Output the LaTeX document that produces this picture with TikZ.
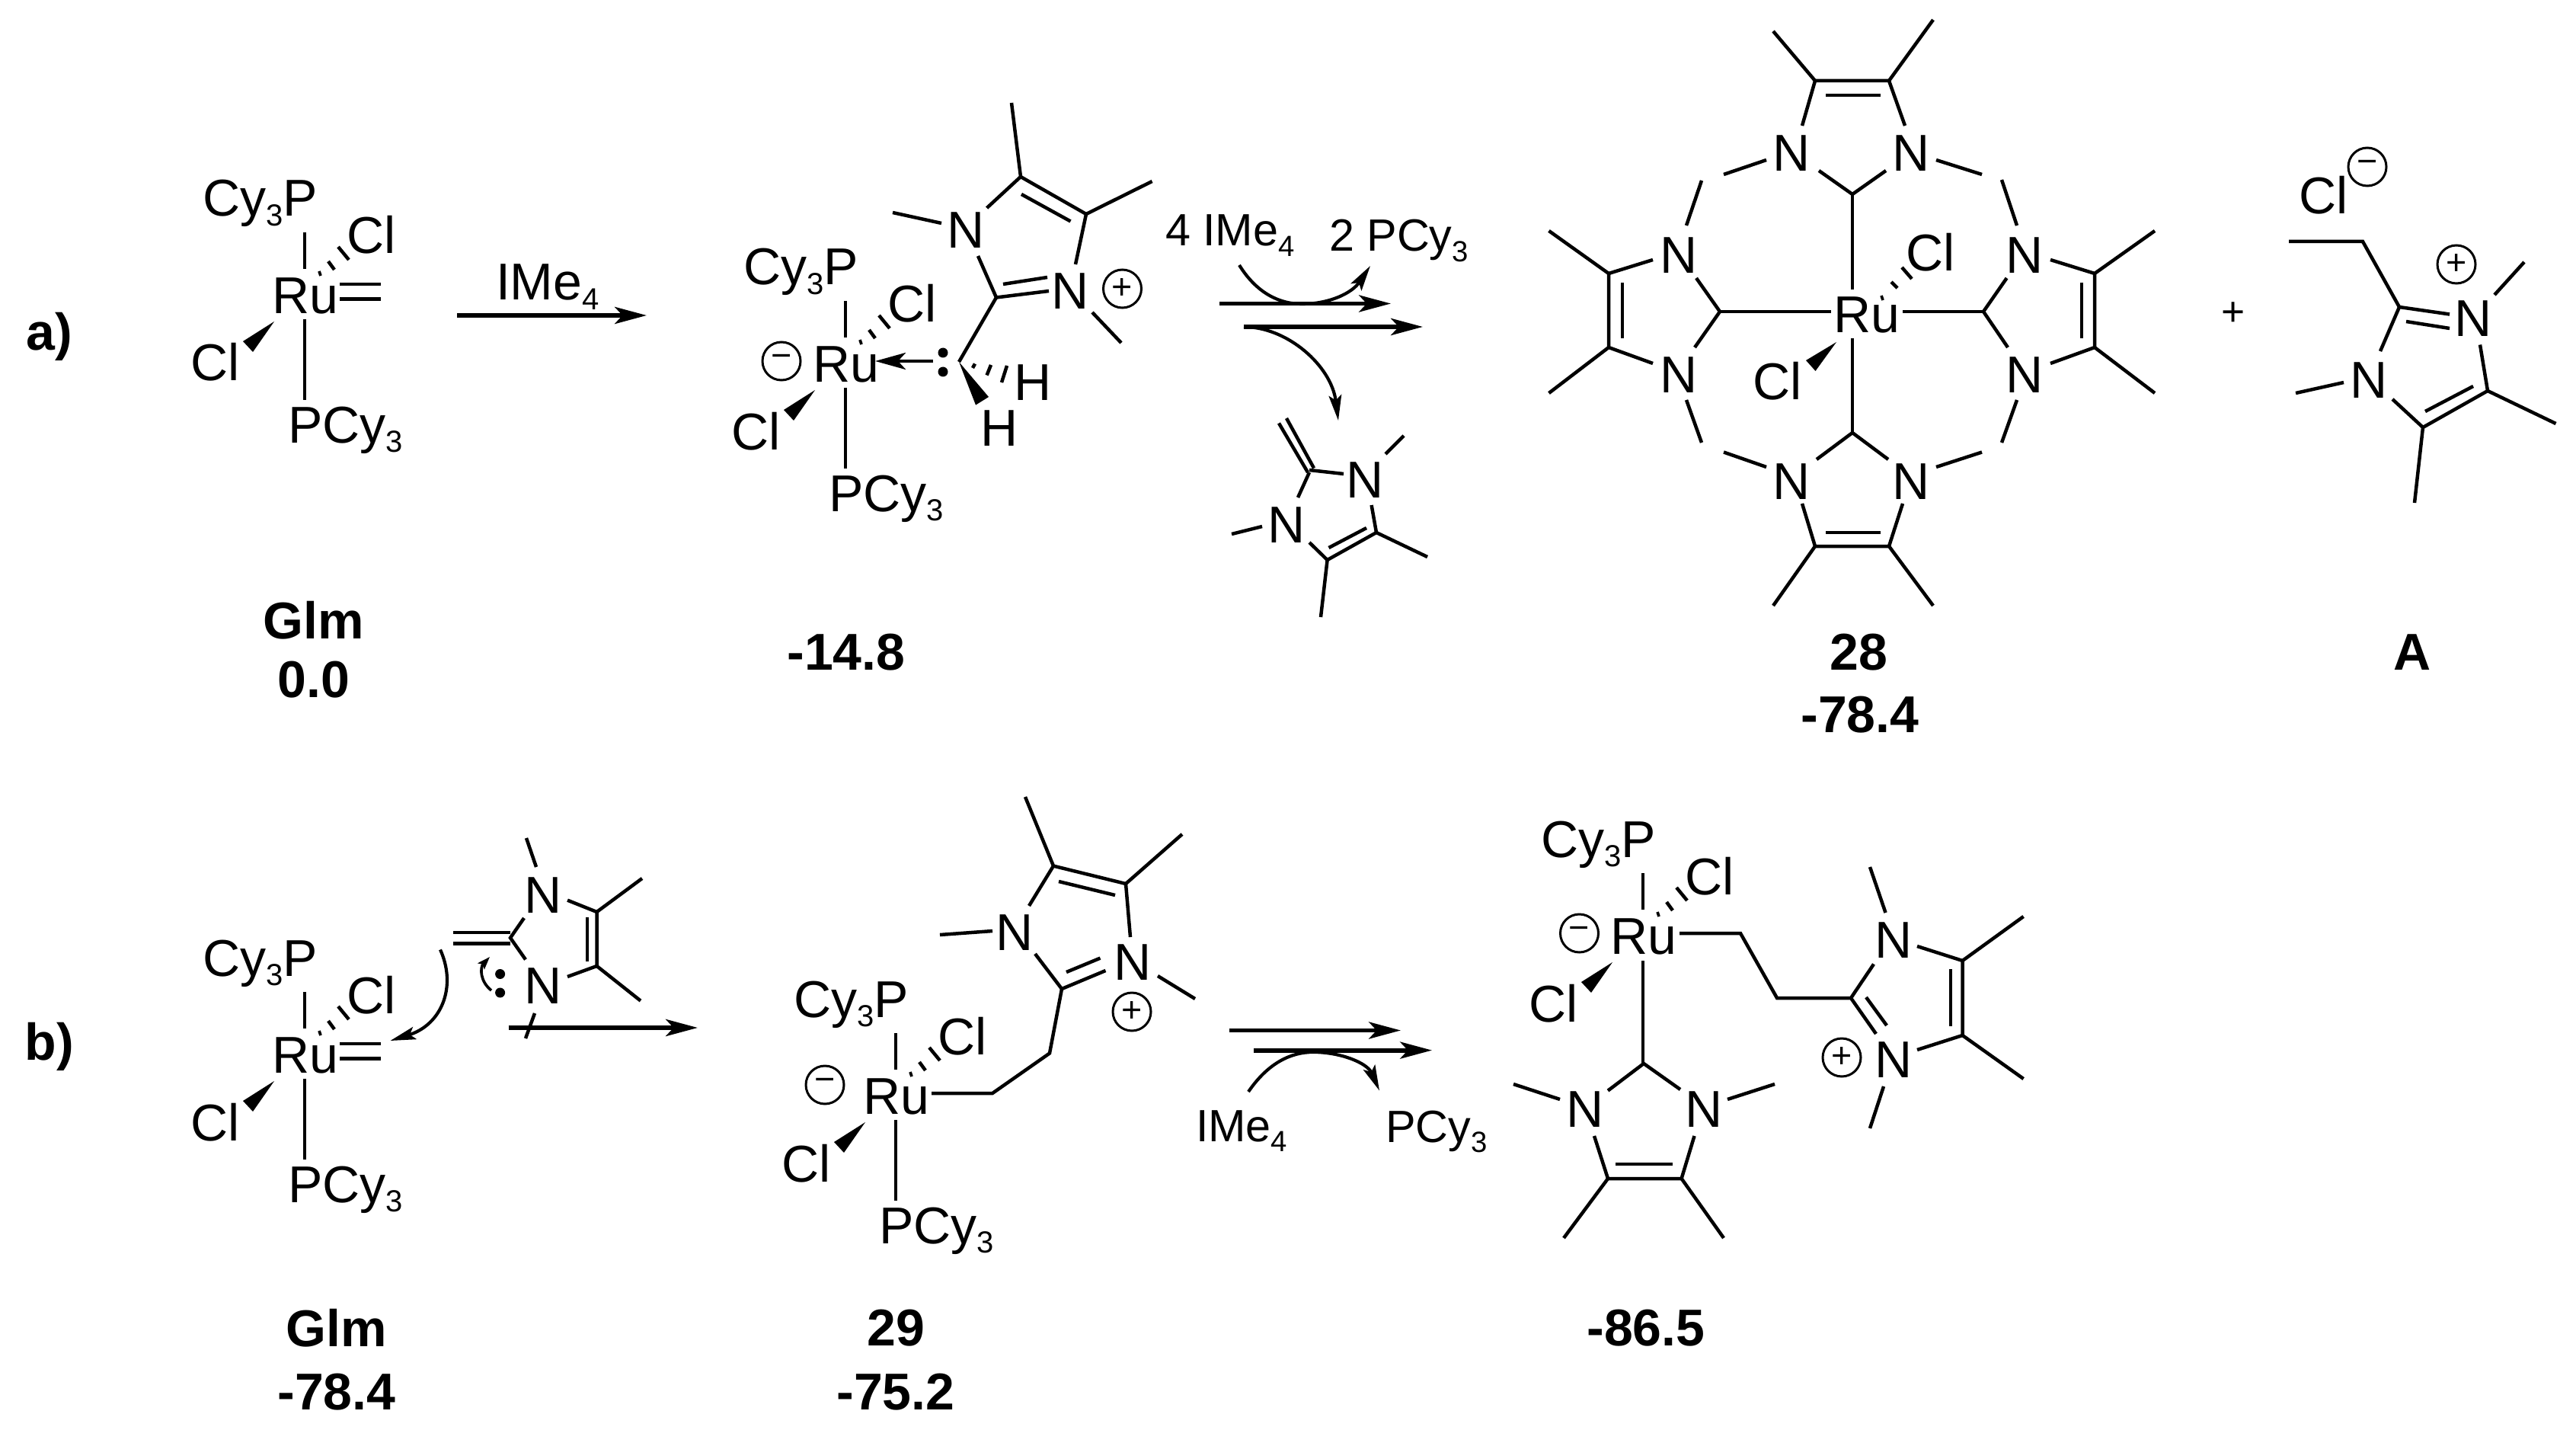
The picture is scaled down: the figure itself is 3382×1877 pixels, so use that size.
\documentclass[tikz,border=0pt]{standalone}
\usepackage{fontspec}
\setmainfont{Liberation Sans}
\usetikzlibrary{arrows.meta}
\newcommand{\sbs}[1]{\raisebox{-0.19em}{\fontsize{12pt}{12pt}\selectfont #1}}
\newcommand{\sbt}[1]{\raisebox{-0.22em}{\fontsize{11.5pt}{12pt}\selectfont #1}}
\tikzset{
  bond/.style={line width=1.35pt},
  thin bond/.style={line width=1.1pt},
  lab/.style={inner sep=0pt,outer sep=0pt,font=\fontsize{20.4pt}{22pt}\selectfont},
  tw/.style={lab,anchor=base west},
  tws/.style={lab,anchor=base west,font=\fontsize{17.8pt}{20pt}\selectfont},
  tc/.style={lab,anchor=base,yshift=-7.3pt},
  caption/.style={lab,font=\fontsize{20.4pt}{22pt}\selectfont\bfseries,anchor=center},
  chg/.style={circle,draw,line width=0.9pt,minimum size=15pt,inner sep=0pt,font=\fontsize{14pt}{14pt}\selectfont},
  rxn/.style={line width=1.75pt,-{Stealth[length=12.5pt,width=6.6pt,inset=3pt]}},
  curly/.style={line width=1.25pt,-{Stealth[length=10pt,width=5pt,inset=2pt]}},
  curlysmall/.style={line width=1.1pt,-{Stealth[length=5pt,width=3.5pt,inset=1pt]}}
}
% Ru centre with Cy3P, hashed Cl and wedged Cl
\newcommand{\RuCore}[3]{%
\begin{scope}[shift={(#2,#3)},name prefix=#1-]
  \node[lab,anchor=base] (ru) at (0,24.5) {Ru};
  \node[tw] (pup) at (-135,-103) {Cy\sbs{3}P};
  \node[tw] (clh) at (54,-54) {Cl};
  \node[tw] (clw) at (-151,113) {Cl};
  \draw[bond] (-1,-82)--(-1,-34);
  \draw[thin bond] (18,-31)--(20,-25);
  \draw[bond] (30,-44)--(38,-33);
  \draw[bond] (43,-63)--(57,-46);
  \fill (-41,35)--(-82,61)--(-69,75)--cycle;
\end{scope}}
\newcommand{\RuDown}[3]{%
\begin{scope}[shift={(#2,#3)},name prefix=#1-]
  \draw[bond] (-1,32)--(-1,138);
  \node[tw] (pdn) at (-23,194) {PCy\sbs{3}};
\end{scope}}
\newcommand{\RuEne}[3]{%
\begin{scope}[shift={(#2,#3)}]
  \draw[bond] (45,-14)--(99,-14);
  \draw[bond] (45,5.5)--(99,5.5);
\end{scope}}
\begin{document}
\begin{tikzpicture}[x=0.3pt,y=-0.3pt]
\useasboundingbox (0,0) rectangle (3382,1877);

% ---- row labels
\node[caption] (la) at (65,442) {a)};
\node[caption] (lb) at (65,1374) {b)};

% ---- a) Glm
\RuCore{g}{401}{387}\RuDown{g}{401}{387}\RuEne{g}{401}{387}
\coordinate (a1s) at (600,414); \coordinate (a1e) at (849,414);
\draw[rxn] (a1s)--(a1e);
\node[tw] (ime1) at (651,394) {IMe\sbs{4}};
\node[caption] (c1a) at (412,814) {Glm};
\node[caption] (c1b) at (412,892) {0.0};

% ---- a) intermediate
\RuCore{i}{1111}{477}\RuDown{i}{1111}{477}
\node[chg] (im) at (1026,474) {−};
\draw[bond] (1328,135)--(1340,232)--(1426,281)--(1412,347);
\draw[bond] (1512.6,238)--(1426,281);
\draw[bond] (1172,279)--(1236,293);
\draw[bond] (1295.6,273)--(1340,232);
\draw[bond] (1284,336)--(1308,390.5)--(1377,382);
\draw[bond] (1341,255)--(1405.5,290.5);
\draw[bond] (1317,373)--(1375,364);
\draw[bond] (1434,410)--(1472,450);
\draw[bond] (1308,390.5)--(1259,475);
\fill (1259,475)--(1281,531.6)--(1298,521)--cycle;
\draw[bond] (1277,483)--(1280,477.5);
\draw[bond] (1295.6,492.5)--(1301,479);
\draw[bond] (1315,502)--(1322,480);
\node[tc] (in1) at (1268,301.6) {N};
\node[tc] (in2) at (1405,381) {N};
\node[chg] (ip) at (1473.5,379) {+};
\node[tw] (ih1) at (1331,526) {H};
\node[tw] (ih2) at (1287,586) {H};
\fill (1238,463) circle (6.5);
\fill (1238,488) circle (6.5);
\coordinate (ds) at (1225,474); \coordinate (de) at (1149,474);
\draw[line width=1.35pt,-{Stealth[length=12pt,width=6.6pt,inset=3pt]}] (ds)--(de);
\node[caption] (c2a) at (1111,856) {-14.8};

% ---- a) double arrow
\node[tws] (t4i) at (1530,323) {4 IMe\sbt{4}};
\node[tws] (t2p) at (1745,330) {2 PCy\sbt{3}};
\coordinate (a2s) at (1601,398.5); \coordinate (a2e) at (1826,398.5);
\coordinate (a3s) at (1633,429); \coordinate (a3e) at (1868,429);
\draw[rxn] (a2s)--(a2e);
\draw[rxn] (a3s)--(a3e);
\coordinate (cu1) at (1627,348); \coordinate (cu1e) at (1799,349);
\draw[curly] (cu1) .. controls (1650,385) and (1680,399) .. (1709,399) .. controls (1745,399) and (1775,385) .. (cu1e);
\coordinate (cu2e) at (1757,552);
\draw[curly] (a3s) .. controls (1690,429) and (1748,480) .. (cu2e);

% ---- a) enamine by-product
\draw[bond] (1689,549)--(1725,614.5);
\draw[bond] (1679,555.5)--(1717,620);
\draw[bond] (1719,617)--(1764,622);
\draw[bond] (1819,596)--(1843,572);
\draw[bond] (1719,620)--(1704,653);
\draw[bond] (1657,691)--(1617,701);
\draw[bond] (1719,712)--(1742.6,735)--(1807,699)--(1800.6,663);
\draw[bond] (1744.5,719)--(1794,693);
\draw[bond] (1807,699)--(1874,731);
\draw[bond] (1742.6,735)--(1734,810);
\node[tc] (en1) at (1792,629) {N};
\node[tc] (en2) at (1689,688) {N};

% ---- a) complex 28
\node[lab,anchor=base] (ru28) at (2451,437) {Ru};
\node[tw] (cl28a) at (2502,356) {Cl};
\node[tw] (cl28b) at (2301,525) {Cl};
\draw[thin bond] (2470,388)--(2472,394);
\draw[bond] (2483,370)--(2491,378);
\draw[bond] (2497,351)--(2510,366);
\fill (2411,449)--(2371,473)--(2383.5,487)--cycle;
% top ring
\draw[bond] (2366,165)--(2383,106)--(2480,106)--(2501,165);
\draw[bond] (2397,125)--(2469,125);
\draw[bond] (2328,41)--(2383,106);
\draw[bond] (2538,26)--(2480,106);
\draw[bond] (2388,224)--(2432,255)--(2476,224);
\draw[bond] (2432,255)--(2432,380);
\node[tc] (n1) at (2352.5,200) {N};
\node[tc] (n2) at (2509,200) {N};
% links
\draw[bond] (2319,210)--(2263,229);
\draw[bond] (2234,237)--(2214,296);
\draw[bond] (2542,210)--(2602,229);
\draw[bond] (2628,236)--(2648,296);
\draw[bond] (2319,613)--(2263,593.5);
\draw[bond] (2234,581)--(2214,525);
\draw[bond] (2542,613)--(2602,593.5);
\draw[bond] (2628,581)--(2648,525);
% left ring
\draw[bond] (2227,365)--(2258,409)--(2225,456);
\draw[bond] (2258,409)--(2404,409);
\draw[bond] (2170,341)--(2112,359)--(2112,456)--(2170,477);
\draw[bond] (2130,371)--(2130,444);
\draw[bond] (2033.5,303)--(2112,359);
\draw[bond] (2033.5,516)--(2112,456);
\node[tc] (n3) at (2204.5,334) {N};
\node[tc] (n4) at (2204.5,491) {N};
% right ring
\draw[bond] (2634.6,365)--(2604,409)--(2636,456);
\draw[bond] (2604,409)--(2498,409);
\draw[bond] (2692,341)--(2750,359)--(2750,456)--(2692,477);
\draw[bond] (2733,371)--(2733,444);
\draw[bond] (2829,303)--(2750,359);
\draw[bond] (2829,516)--(2750,456);
\node[tc] (n5) at (2658,334) {N};
\node[tc] (n6) at (2658,491) {N};
% bottom ring
\draw[bond] (2432,444)--(2432,568);
\draw[bond] (2385,603)--(2432,568)--(2479,603);
\draw[bond] (2366,661)--(2383,717)--(2480,717)--(2498,661);
\draw[bond] (2397,699)--(2469,699);
\draw[bond] (2328,795)--(2383,717);
\draw[bond] (2538,795)--(2480,717);
\node[tc] (n7) at (2352.5,631) {N};
\node[tc] (n8) at (2509,631) {N};
\node[caption] (c3a) at (2440,856) {28};
\node[caption] (c3b) at (2442,938) {-78.4};

% ---- a) plus and salt A
\node[lab,anchor=center] (pl) at (2932,412) {\fontsize{16pt}{16pt}\selectfont +};
\node[tw] (clA) at (3018,281) {Cl};
\node[chg] (amin) at (3108,219) {−};
\draw[bond] (3005,317)--(3102,317)--(3150,403)--(3216,412.5);
\draw[bond] (3159,422)--(3216,431);
\draw[bond] (3150,403)--(3125,461);
\draw[bond] (3275,387)--(3314,344);
\draw[bond] (3256,452.5)--(3266,513)--(3181,561)--(3141,524);
\draw[bond] (3247,507)--(3184,540);
\draw[bond] (3077,502)--(3014,516);
\draw[bond] (3181,561)--(3170,660);
\draw[bond] (3266,513)--(3355.5,556);
\node[tc] (an1) at (3247,417) {N};
\node[tc] (an2) at (3110.5,498) {N};
\node[chg] (apl) at (3225,347) {+};
\node[caption] (c4) at (3167,856) {A};

% ---- b) Glm + enamine
\RuCore{h}{401}{1384}\RuDown{h}{401}{1384}\RuEne{h}{401}{1384}
\draw[bond] (595.4,1224)--(670,1224);
\draw[bond] (595.4,1238.5)--(670,1238.5);
\draw[bond] (688,1205)--(670,1231)--(690,1259.5);
\draw[bond] (691,1100)--(704,1138);
\draw[bond] (745,1181.6)--(783.5,1197)--(783.5,1268)--(745,1282);
\draw[bond] (771,1204)--(771,1261.5);
\draw[bond] (783.5,1197)--(843,1153);
\draw[bond] (783.5,1268)--(841,1313.6);
\draw[bond] (702,1330)--(690,1363);
\node[tc] (bn1) at (713,1174) {N};
\node[tc] (bn2) at (713,1293) {N};
\fill (656.6,1278.5) circle (6.5);
\fill (656.6,1303) circle (6.5);
\coordinate (b1s) at (667.5,1349); \coordinate (b1e) at (916,1349);
\draw[rxn] (b1s)--(b1e);
\coordinate (cu3s) at (578,1246.5); \coordinate (cu3e) at (512.5,1366);
\draw[curly] (cu3s) .. controls (600,1295) and (580,1345) .. (cu3e);
\coordinate (cu4s) at (645,1300); \coordinate (cu4e) at (643,1256);
\draw[curlysmall] (cu4s) .. controls (630,1288) and (630,1270) .. (cu4e);
\node[caption] (c5a) at (442,1743) {Glm};
\node[caption] (c5b) at (442,1827) {-78.4};

% ---- b) 29
\RuCore{j}{1177}{1438}\RuDown{j}{1177}{1438}
\node[chg] (jm) at (1083,1424) {−};
\draw[bond] (1223,1435)--(1303,1435)--(1378,1382.5)--(1394,1298)--(1451.5,1274);
\draw[bond] (1400,1276)--(1444.5,1257.6);
\draw[bond] (1394,1298)--(1359,1252);
\draw[bond] (1351,1189)--(1383,1136.6)--(1478,1160)--(1484,1230);
\draw[bond] (1390,1157)--(1464,1175);
\draw[bond] (1346,1046)--(1383,1136.6);
\draw[bond] (1552,1095)--(1478,1160);
\draw[bond] (1234,1227)--(1303,1222);
\draw[bond] (1520,1281)--(1569,1311);
\node[tc] (jn1) at (1332,1223) {N};
\node[tc] (jn2) at (1487,1262) {N};
\node[chg] (jp) at (1486,1328) {+};
\node[caption] (c6a) at (1176,1743) {29};
\node[caption] (c6b) at (1176,1827) {-75.2};

% ---- b) double arrow
\coordinate (b2s) at (1613.5,1352.5); \coordinate (b2e) at (1839,1352.5);
\coordinate (b3s) at (1646,1378.6); \coordinate (b3e) at (1880,1378.6);
\draw[rxn] (b2s)--(b2e);
\draw[rxn] (b3s)--(b3e);
\coordinate (cu5s) at (1639,1433); \coordinate (cu5e) at (1811,1431.5);
\draw[curly] (cu5s) .. controls (1665,1395) and (1695,1381) .. (1724,1381) .. controls (1760,1381) and (1795,1395) .. (cu5e);
\node[tws] (bime) at (1570,1498.7) {IMe\sbt{4}};
\node[tws] (bpcy) at (1819,1499) {PCy\sbt{3}};

% ---- b) product
\RuCore{k}{2158}{1228}
\node[chg] (km) at (2073.5,1225) {−};
\draw[bond] (2205,1225)--(2285,1225)--(2333,1310)--(2430,1310)--(2463,1357);
\draw[bond] (2430,1310)--(2460,1265.5);
\draw[bond] (2450,1309)--(2477,1346);
\draw[bond] (2475.5,1198)--(2455,1138);
\draw[bond] (2517,1242)--(2576.5,1261)--(2576.5,1359)--(2517,1378);
\draw[bond] (2561,1272)--(2561,1347);
\draw[bond] (2576.5,1261)--(2656.6,1203);
\draw[bond] (2576.5,1359)--(2656.6,1416);
\draw[bond] (2473,1426)--(2455,1481);
\node[tc] (kn1) at (2486,1233) {N};
\node[tc] (kn2) at (2486,1390.5) {N};
\node[chg] (kp) at (2418,1388) {+};
\draw[bond] (2157,1261)--(2157,1396);
\draw[bond] (2111,1431.6)--(2158,1396)--(2206,1430);
\draw[bond] (2048,1443)--(1987,1423);
\draw[bond] (2268,1443)--(2330,1423);
\draw[bond] (2093,1491)--(2111,1547)--(2207.6,1547)--(2224.5,1491);
\draw[bond] (2121,1528)--(2196,1528);
\draw[bond] (2111,1547)--(2053,1625);
\draw[bond] (2207.6,1547)--(2263,1625);
\node[tc] (kn3) at (2081,1455) {N};
\node[tc] (kn4) at (2237,1455) {N};
\node[caption] (c7) at (2161,1743) {-86.5};
\end{tikzpicture}
\end{document}
